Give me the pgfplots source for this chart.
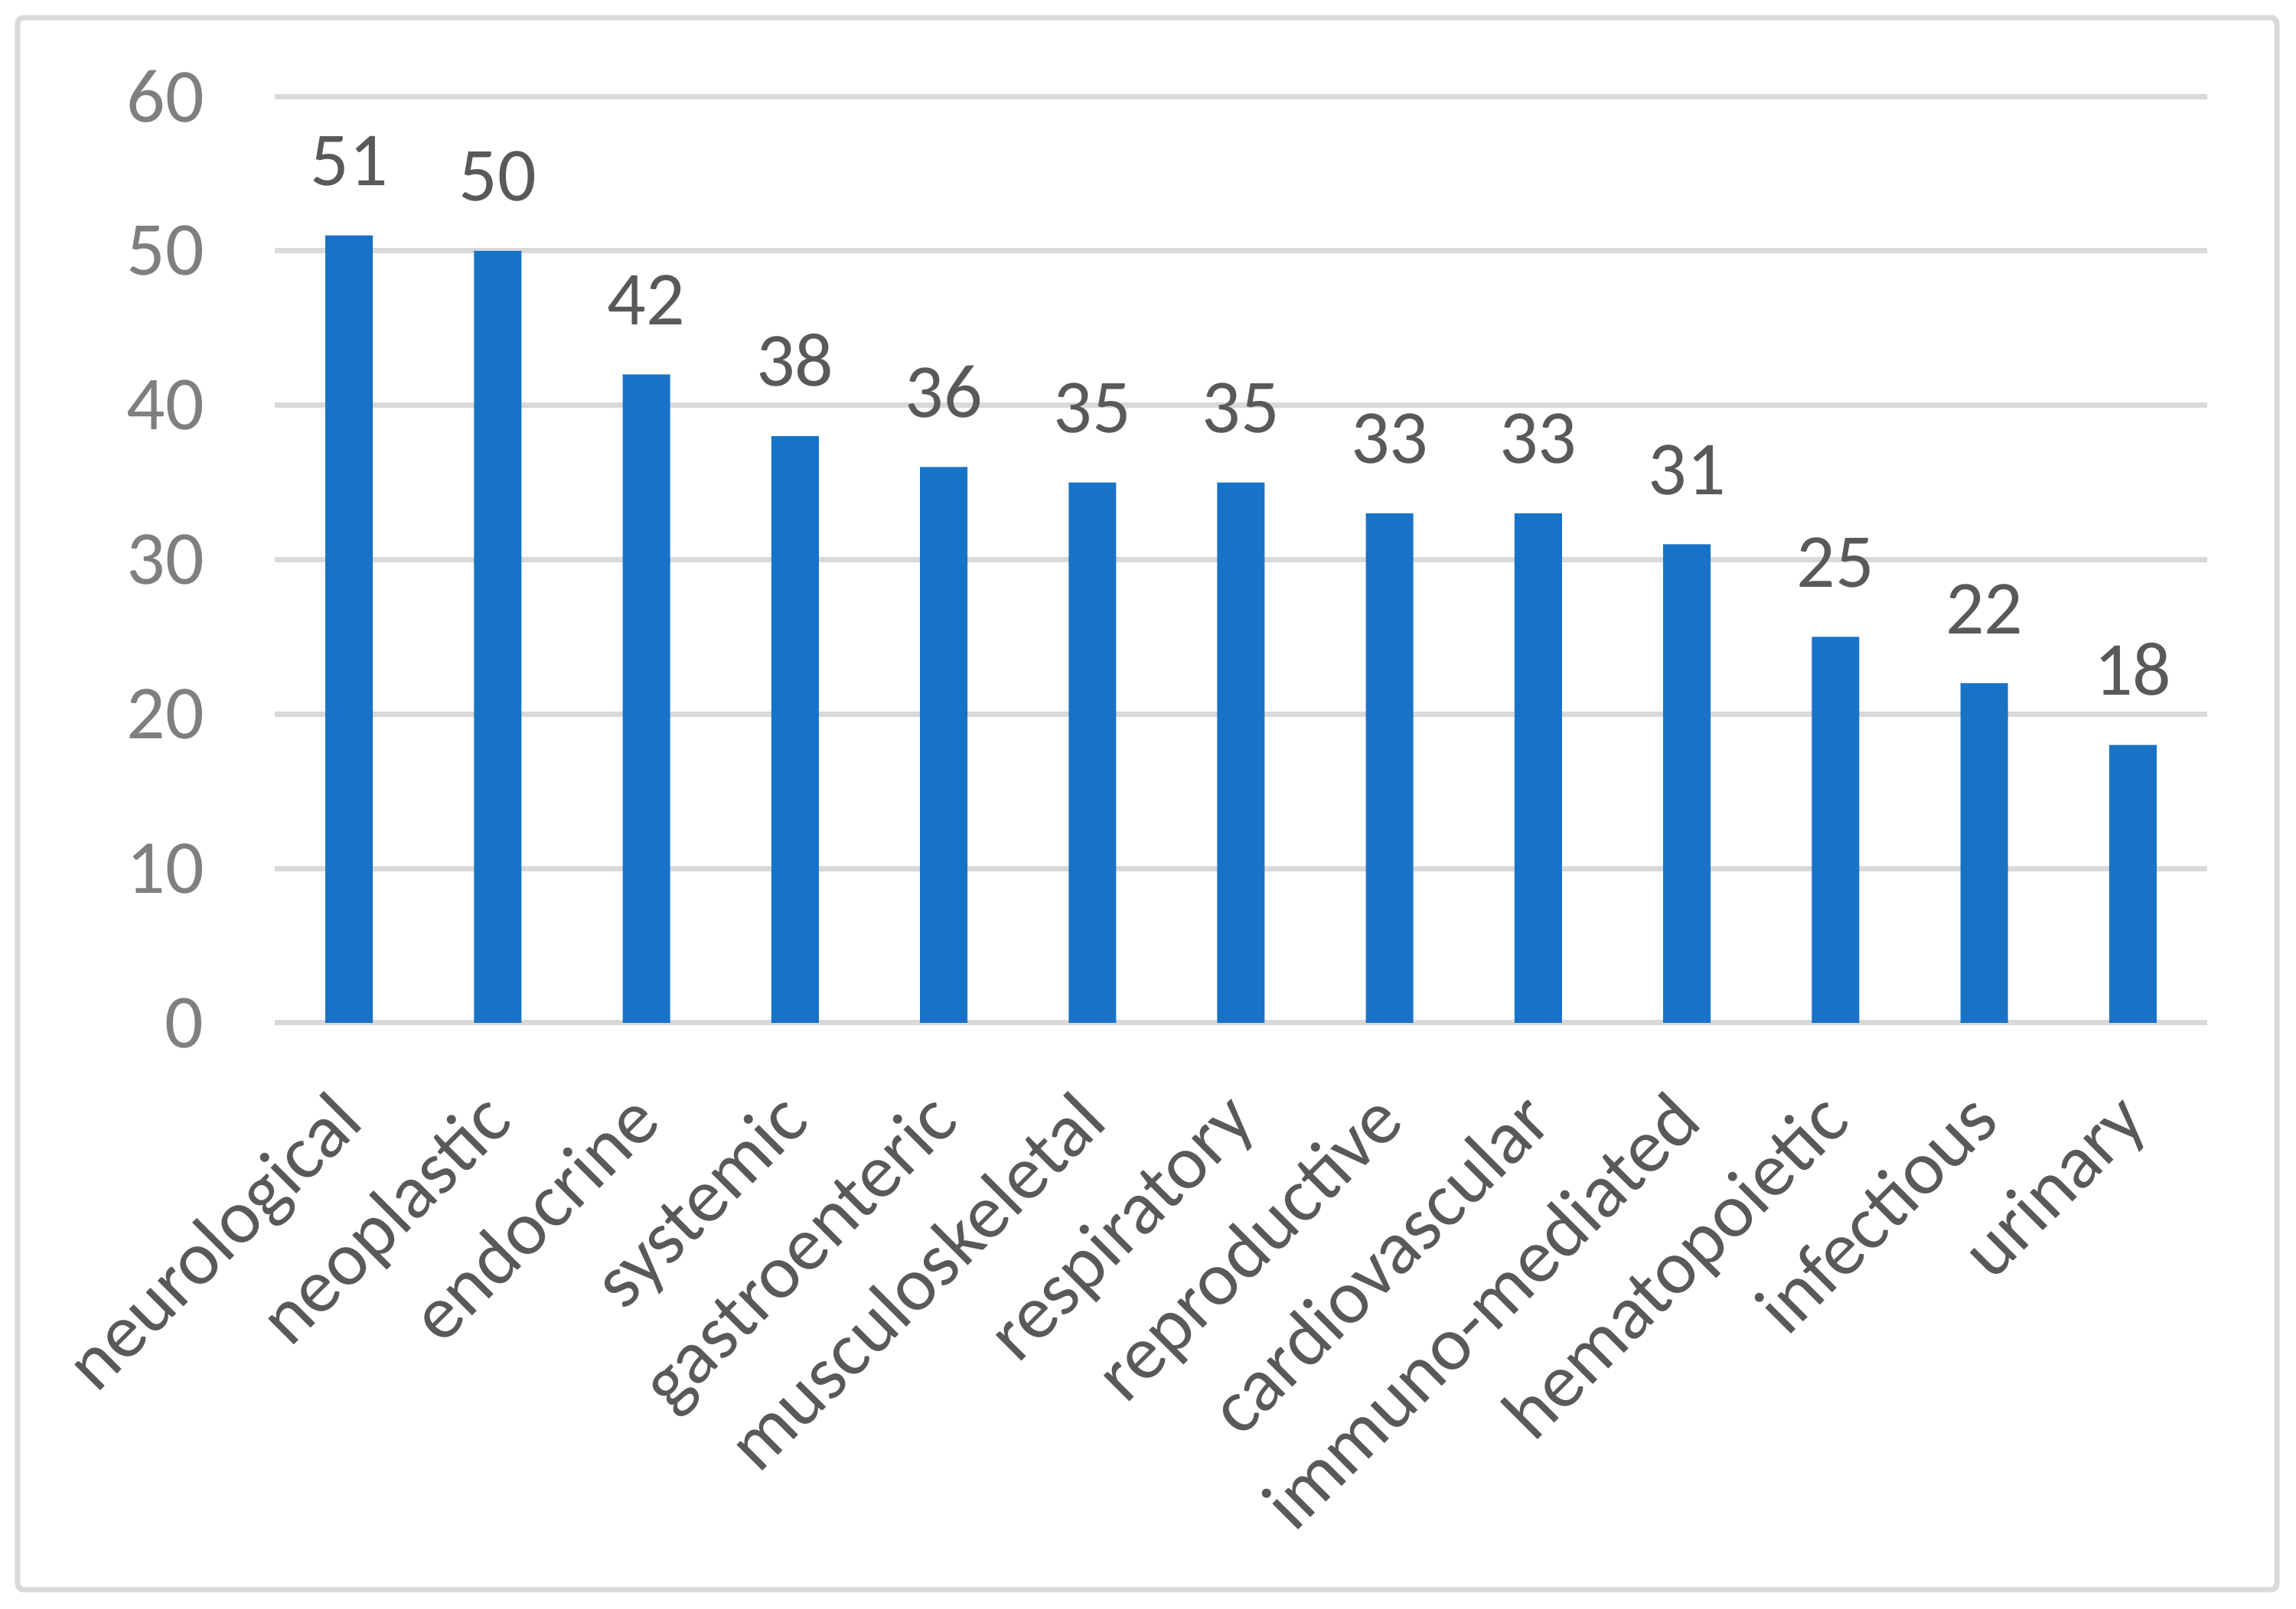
\documentclass[border=0pt]{standalone}
\usepackage{pgfplots}
\pgfplotsset{compat=1.18}
\usepackage{fontspec}
\setmainfont{Carlito}
\definecolor{barblue}{RGB}{24,115,199}
\definecolor{gridgray}{RGB}{217,217,217}
\definecolor{ticklab}{RGB}{127,127,127}
\definecolor{lab}{RGB}{89,89,89}
\begin{document}
\begin{tikzpicture}[font=\fontsize{14.2pt}{17pt}\selectfont]
\begin{axis}[
  scale only axis, width=126.25mm, height=60.55mm,
  xmin=-0.5, xmax=12.5, ymin=0, ymax=60,
  ytick={0,10,20,30,40,50,60},
  xtick={0,1,2,3,4,5,6,7,8,9,10,11,12},
  xticklabels={neurological,neoplastic,endocrine,systemic,gastroenteric,musculoskeletal,respiratory,reproductive,cardiovascular,immuno-mediated,hematopoietic,infectious,urinary},
  ybar, bar width=3.1mm,
  axis line style={draw=none},
  major tick length=0pt,
  ymajorgrids, grid style={line width=0.35mm, gridgray},
  /pgf/number format/assume math mode=true,
  yticklabel style={anchor=east, inner sep=0pt, xshift=-4.55mm, text=ticklab},
  xticklabel style={xshift=1.15mm, yshift=-6.6mm, rotate=45, anchor=base east, inner sep=0pt, text=lab},
  nodes near coords,
  nodes near coords style={anchor=south, inner sep=0pt, yshift=3.15mm, text=lab},
  clip=false,
]
\addplot[fill=barblue, draw=none] coordinates {(0,51) (1,50) (2,42) (3,38) (4,36) (5,35) (6,35) (7,33) (8,33) (9,31) (10,25) (11,22) (12,18)};
\draw[gridgray, line width=0.35mm, rounded corners=0.4mm] ([shift={(-16.8mm,-37.05mm)}]rel axis cs:0,0) rectangle ([shift={(4.55mm,5.15mm)}]rel axis cs:1,1);
\path ([shift={(-17.95mm,-38.3mm)}]rel axis cs:0,0) rectangle ([shift={(5.8mm,6.3mm)}]rel axis cs:1,1);
\end{axis}
\end{tikzpicture}
\end{document}
